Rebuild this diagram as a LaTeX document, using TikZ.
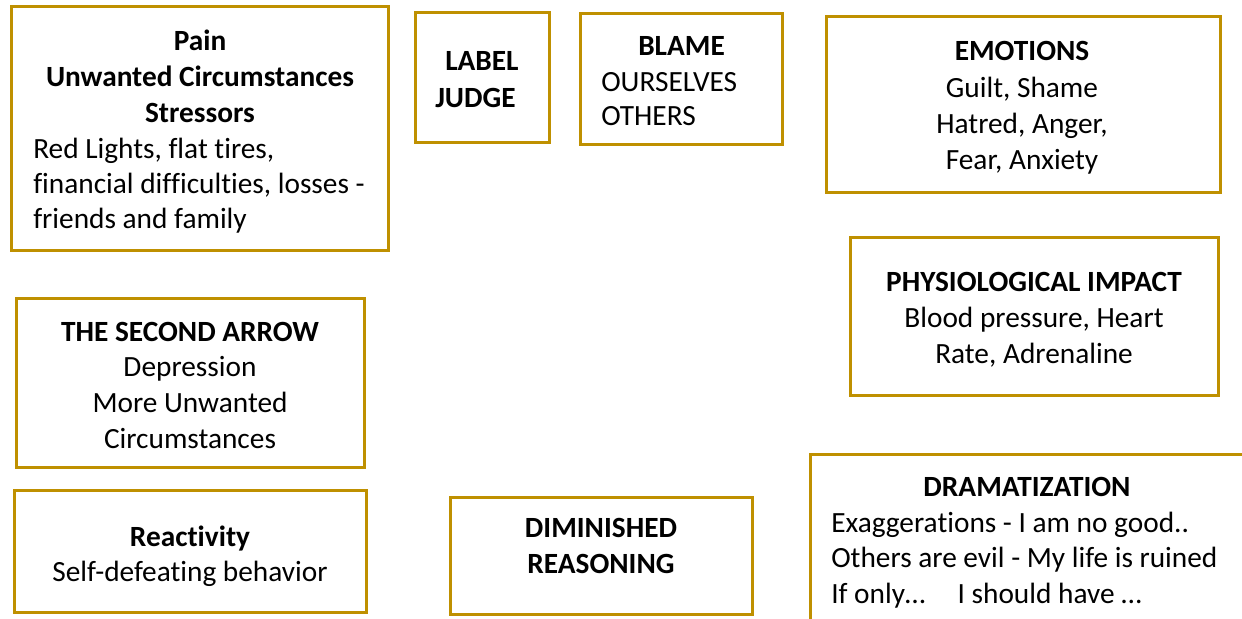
\documentclass[tikz,border=0pt]{standalone}
\usepackage{fontspec}
\setmainfont[Ligatures=NoCommon]{Carlito}
\usetikzlibrary{fit}
\definecolor{gold}{HTML}{BF9000}
\begin{document}
\begin{tikzpicture}[x=0.75pt,y=-0.75pt,
  box/.style={draw=gold,line width=2.25pt,inner sep=0pt,rectangle},
  t/.style={inner sep=0pt,anchor=base,font=\fontsize{22}{26}\selectfont},
  tl/.style={inner sep=0pt,anchor=base west,font=\fontsize{22}{26}\selectfont},
  tb/.style={t,font=\fontsize{22}{26}\selectfont\bfseries},
  tbl/.style={tl,font=\fontsize{22}{26}\selectfont\bfseries}]
\useasboundingbox (0,0) rectangle (1242,618);
\clip (0,0) rectangle (1242,618);
% boxes
\node[box,fit={(11,6) (388,250)}] (pain) {};
\node[box,fit={(415,12) (549,142)}] (label) {};
\node[box,fit={(580,13) (782,144)}] (blame) {};
\node[box,fit={(826,16) (1220,192)}] (emotions) {};
\node[box,fit={(850,237) (1218,395)}] (phys) {};
\node[box,fit={(16,298) (364,467)}] (second) {};
\node[box,fit={(14,490) (366,612)}] (react) {};
\node[box,fit={(450,497) (752,614)}] (dimin) {};
\node[box,fit={(810,454) (1260,640)}] (drama) {};
% pain
\node[tb] (p1) at (200,50) {Pain};
\node[tb] (p2) at (200,86) {Unwanted Circumstances};
\node[tb] (p3) at (200,122) {Stressors};
\node[tl] (p4) at (33,158) {Red Lights, flat tires,};
\node[tl] (p5) at (33,193) {financial difficulties, losses -};
\node[tl] (p6) at (33,228) {friends and family};
% label judge
\node[tbl] (l1) at (445,70) {LABEL};
\node[tbl] (l2) at (435,107) {JUDGE};
% blame
\node[tbl] (b1) at (638,55) {BLAME};
\node[tl] (b2) at (601,91) {OURSELVES};
\node[tl] (b3) at (601,125) {OTHERS};
% emotions
\node[tb] (e1) at (1022,60) {EMOTIONS};
\node[t] (e2) at (1022,97) {Guilt, Shame};
\node[t] (e3) at (1022,133) {Hatred, Anger,};
\node[t] (e4) at (1022,169) {Fear, Anxiety};
% physiological
\node[tb] (f1) at (1034,291) {PHYSIOLOGICAL IMPACT};
\node[t] (f2) at (1034,327) {Blood pressure, Heart};
\node[t] (f3) at (1034,363) {Rate, Adrenaline};
% second arrow
\node[tb] (s1) at (190,341) {THE SECOND ARROW};
\node[t] (s2) at (190,376) {Depression};
\node[t] (s3) at (190,412) {More Unwanted};
\node[t] (s4) at (190,448) {Circumstances};
% reactivity
\node[tb] (r1) at (190,546) {Reactivity};
\node[t] (r2) at (190,581) {Self-defeating behavior};
% diminished
\node[tb] (d1) at (601,537) {DIMINISHED};
\node[tb] (d2) at (601,573) {REASONING};
% dramatization
\node[tb] (m1) at (1027,496) {DRAMATIZATION};
\node[tl] (m2) at (831,532) {Exaggerations - I am no good..};
\node[tl] (m3) at (831,567) {Others are evil - My life is ruined};
\node[tl] (m4) at (831,603) {If only…\hspace{1.1em}I should have …};
\end{tikzpicture}
\end{document}
